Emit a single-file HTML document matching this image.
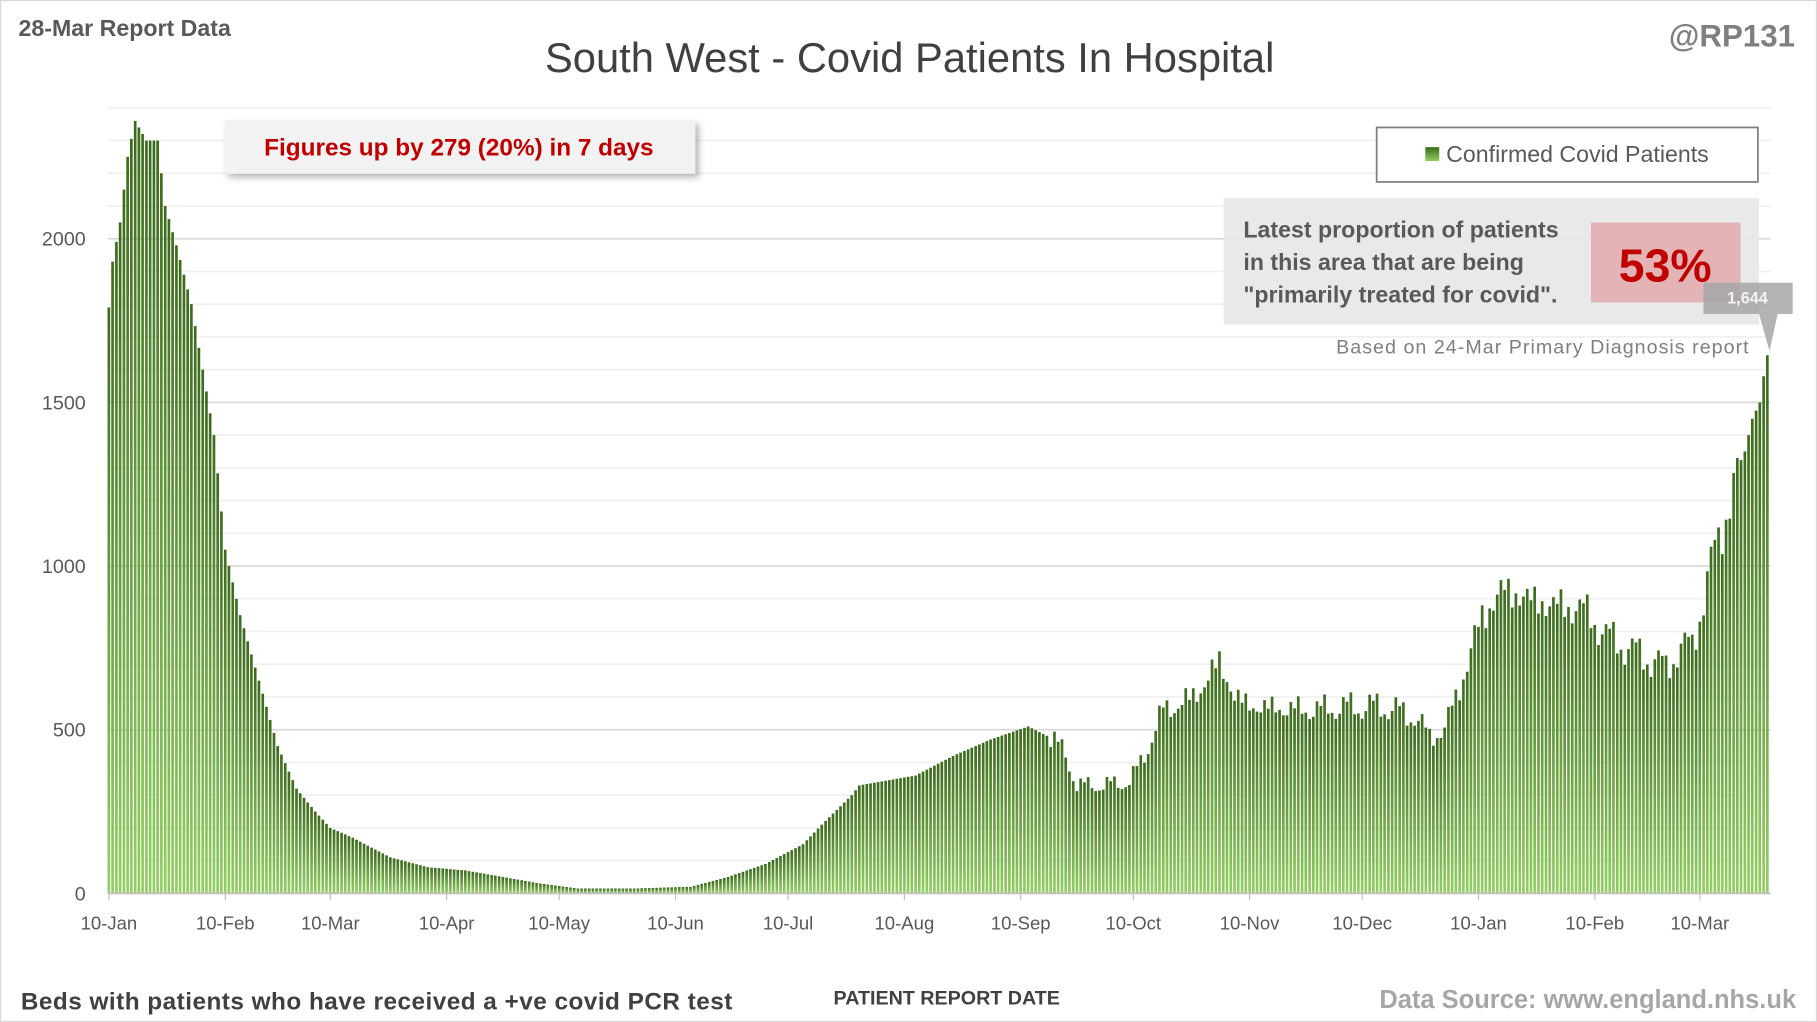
<!DOCTYPE html>
<html><head><meta charset="utf-8"><style>
html,body{margin:0;padding:0;background:#fff;}
svg{display:block;}
text{font-family:"Liberation Sans",sans-serif;}
</style></head><body>
<svg id="s" width="1817" height="1022" viewBox="0 0 1568 882" preserveAspectRatio="none" xmlns="http://www.w3.org/2000/svg">
<defs>
<linearGradient id="g" x1="0" y1="0" x2="0" y2="1"><stop offset="0" stop-color="#3b6a1c"/><stop offset="1" stop-color="#93cf63"/></linearGradient>
<filter id="sh" x="-10%" y="-20%" width="130%" height="160%"><feDropShadow dx="3" dy="3" stdDeviation="3" flood-color="#000" flood-opacity="0.3"/></filter>
</defs>
<rect x="0.5" y="0.5" width="1567" height="881" fill="#fff" stroke="#d9d9d9"/>
<g id="grid"></g>
<g id="bars"></g>
<line x1="93" y1="771" x2="1528" y2="771" stroke="#bfbfbf" stroke-width="1.5"/>
<g id="ticks"></g>
<text x="16" y="31" font-size="20" font-weight="bold" fill="#595959">28-Mar Report Data</text>
<text x="785" y="62" font-size="36" fill="#404040" text-anchor="middle">South West - Covid Patients In Hospital</text>
<text x="1549" y="40" font-size="27" font-weight="bold" fill="#7f7f7f" text-anchor="end">@RP131</text>
<rect x="194" y="104" width="406" height="46" fill="#f2f2f2" filter="url(#sh)"/>
<text x="396" y="134" font-size="21" font-weight="bold" fill="#c00000" text-anchor="middle">Figures up by 279 (20%) in 7 days</text>
<rect x="1188" y="110" width="329" height="47" fill="#fff" stroke="#7f7f7f" stroke-width="1.5"/>
<rect x="1230" y="127" width="12" height="12" fill="url(#g)"/>
<text x="1248" y="140" font-size="20" fill="#595959">Confirmed Covid Patients</text>
<rect x="1056" y="171" width="462" height="109" fill="#e8e8e8" opacity="0.95"/>
<rect x="1373" y="192" width="129" height="69" fill="#e3b3b5"/>
<text x="1073" y="205" font-size="20" font-weight="bold" fill="#595959">Latest proportion of patients</text>
<text x="1073" y="233" font-size="20" font-weight="bold" fill="#595959">in this area that are being</text>
<text x="1073" y="261" font-size="20" font-weight="bold" fill="#595959">"primarily treated for covid".</text>
<text x="1437" y="243" font-size="40" font-weight="bold" fill="#c00000" text-anchor="middle">53%</text>
<text x="1153" y="305" font-size="17" fill="#7f7f7f" textLength="356">Based on 24-Mar Primary Diagnosis report</text>
<rect x="1470" y="244" width="77" height="27" fill="#a6a6a6" opacity="0.85"/>
<polygon points="1518,271 1534,271 1527,303" fill="#a6a6a6" opacity="0.85"/>
<text x="1508" y="262" font-size="14" font-weight="bold" fill="#f2f2f2" text-anchor="middle">1,644</text>
<text x="18" y="871" font-size="21" font-weight="bold" fill="#404040" textLength="614">Beds with patients who have received a +ve covid PCR test</text>
<text x="817" y="867" font-size="17" font-weight="bold" fill="#404040" text-anchor="middle">PATIENT REPORT DATE</text>
<text x="1550" y="870" font-size="22" font-weight="bold" fill="#a6a6a6" text-anchor="end">Data Source: www.england.nhs.uk</text>
</svg>
<script>
var NS="http://www.w3.org/2000/svg";
function el(p,t,a,txt){var e=document.createElementNS(NS,t);for(var k in a)e.setAttribute(k,a[k]);if(txt!=null)e.textContent=txt;document.getElementById(p).appendChild(e);return e;}
var Y=function(v){return 771-v*0.2825;};
for(var v=100;v<=2400;v+=100){var maj=v%500==0;el("grid","line",{x1:93,x2:1528,y1:Y(v),y2:Y(v),stroke:maj?"#d9d9d9":"#f0f0f0","stroke-width":1.5});}
[0,500,1000,1500,2000].forEach(function(v){el("grid","text",{x:74,y:Y(v)+6,"font-size":17,fill:"#595959","text-anchor":"end"},v);});
var kp=[[0,1790],[1,1930],[3,2050],[4,2150],[5,2250],[7,2360],[10,2300],[13,2300],[15,2100],[18,1980],[22,1800],[25,1600],[28,1400],[31,1050],[35,850],[40,650],[45,450],[50,320],[55,250],[59,200],[65,170],[75,110],[85,80],[95,70],[105,50],[115,30],[125,15],[140,15],[155,20],[165,50],[175,90],[185,150],[190,210],[198,300],[200,330],[215,360],[225,420],[235,470],[245,510],[252,470],[255,420],[258,330],[265,330],[272,340],[276,420],[281,560],[288,590],[292,640],[296,710],[300,600],[305,570],[320,560],[330,570],[340,570],[348,540],[352,480],[356,500],[359,600],[362,700],[366,850],[372,930],[378,900],[385,880],[393,870],[398,800],[403,760],[410,720],[415,690],[418,740],[422,760],[425,900],[428,1050],[432,1200],[435,1300],[438,1450],[440,1500],[441,1580],[442,1644]];
function val(d){for(var i=1;i<kp.length;i++){if(d<=kp[i][0]){var a=kp[i-1],b=kp[i];return a[1]+(b[1]-a[1])*(d-a[0])/(b[0]-a[0]);}}return 1644;}
var px=3.238;
for(var d=0;d<=442;d++){var v=val(d);if(d>250&&d<436){v*=1+0.045*Math.sin(d*0.9)+0.035*Math.sin(d*2.7)+0.02*Math.sin(d*5.3);}
var x=94+d*px-1.2;el("bars","rect",{x:x.toFixed(1),y:Y(v).toFixed(1),width:2.3,height:(v*0.2825).toFixed(1),fill:"url(#g)"});}
var labs=[["10-Jan",0],["10-Feb",31],["10-Mar",59],["10-Apr",90],["10-May",120],["10-Jun",151],["10-Jul",181],["10-Aug",212],["10-Sep",243],["10-Oct",273],["10-Nov",304],["10-Dec",334],["10-Jan",365],["10-Feb",396],["10-Mar",424]];
labs.forEach(function(l){var x=94+l[1]*px;el("ticks","line",{x1:x,x2:x,y1:771,y2:777,stroke:"#bfbfbf"});el("ticks","text",{x:x,y:802,"font-size":16,fill:"#595959","text-anchor":"middle"},l[0]);});
</script>
</body></html>
